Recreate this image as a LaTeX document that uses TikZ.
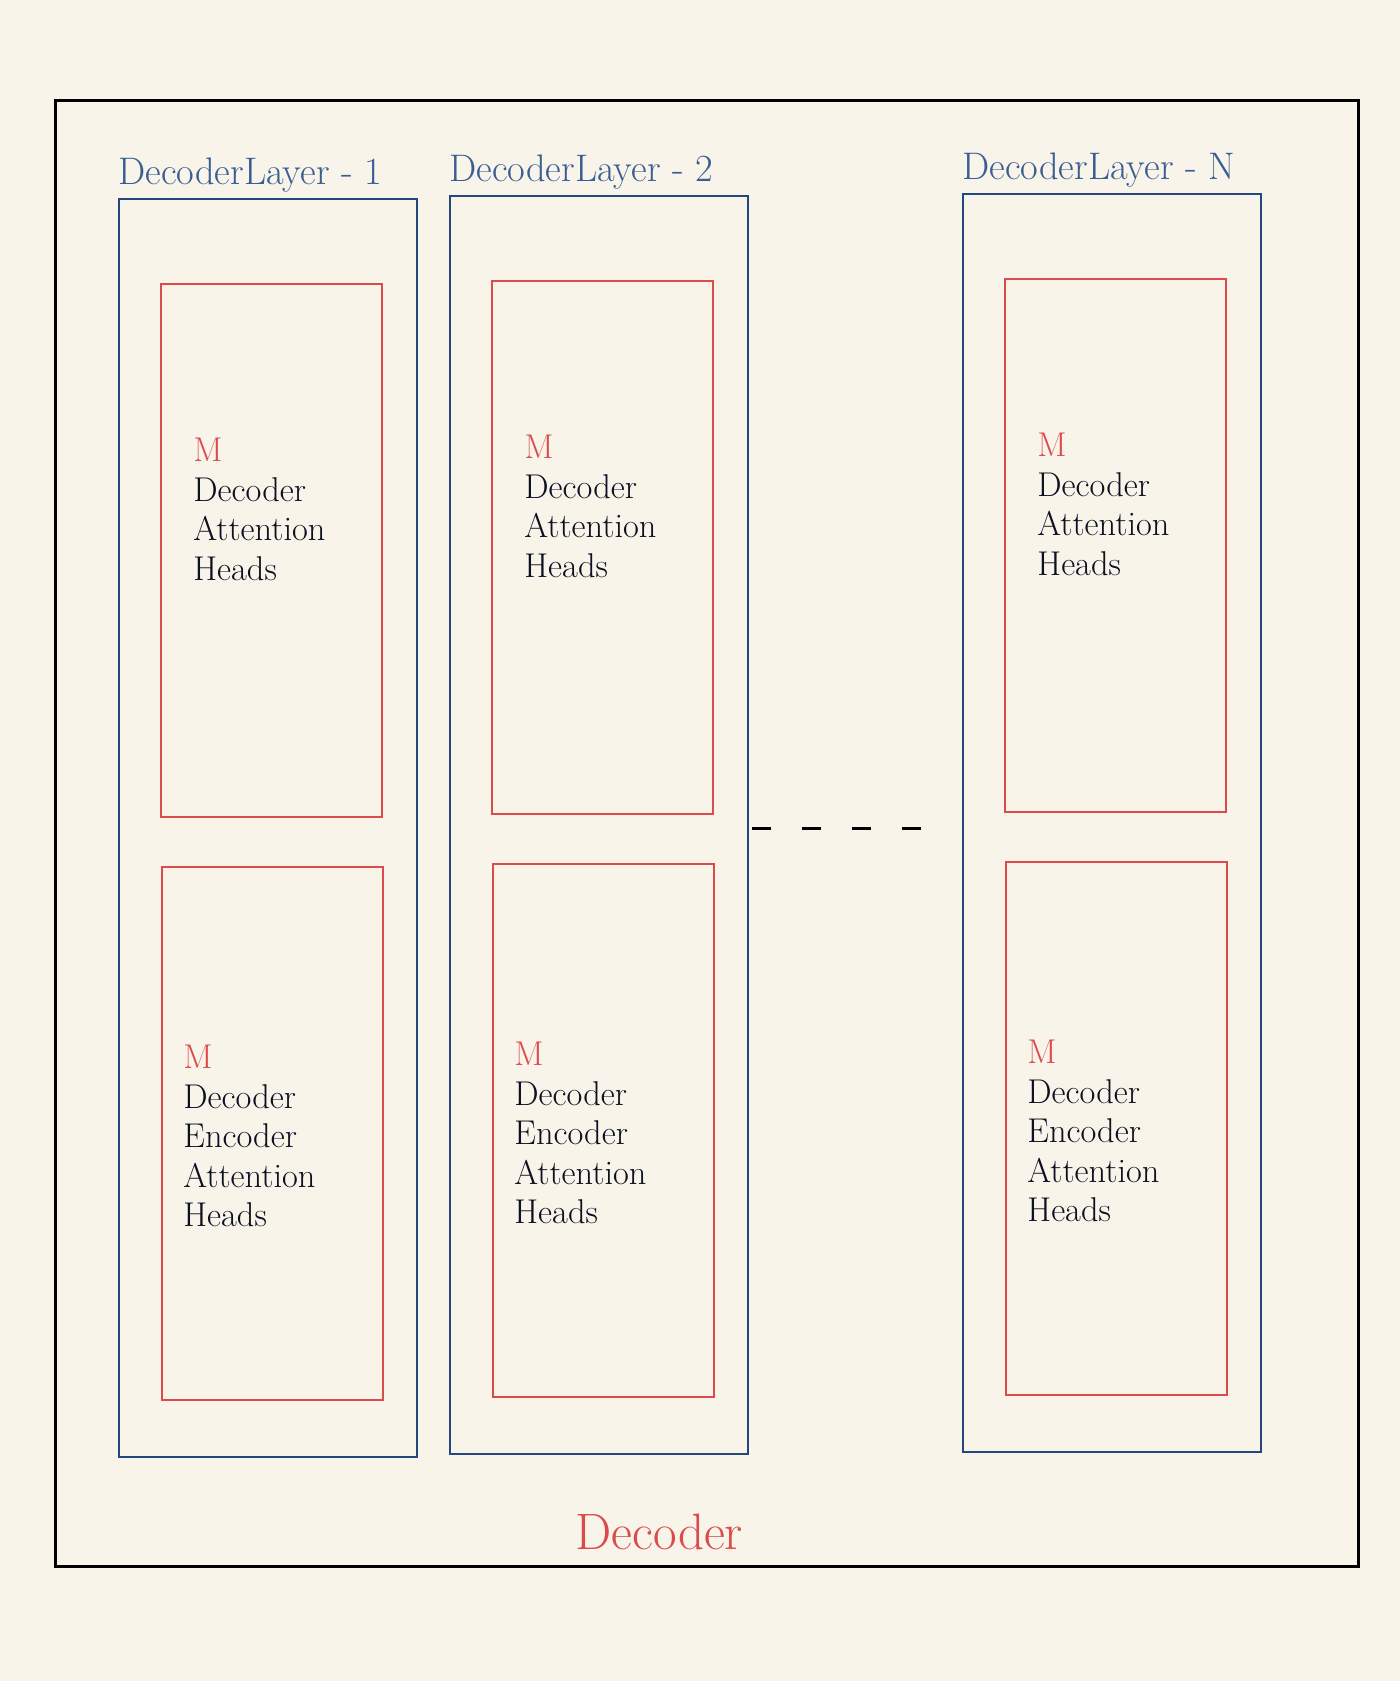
\documentclass[tikz,border=0pt]{standalone}
\usetikzlibrary{positioning}
\definecolor{paper}{HTML}{F8F4EA}
\definecolor{layerblue}{HTML}{24477F}
\definecolor{labelblue}{HTML}{3A5D92}
\definecolor{headred}{HTML}{DC4B4C}
\definecolor{inktext}{HTML}{0C1020}

\tikzset{
  layerbox/.style={draw=layerblue, line width=1.1pt, minimum width=149pt, minimum height=629pt, inner sep=0pt, anchor=north west},
  headbox/.style={draw=headred, line width=1pt, minimum width=110.5pt, minimum height=266.5pt, inner sep=0pt, anchor=north west},
  layerlabel/.style={text=labelblue, font=\fontsize{19.2}{22}\selectfont, inner sep=0pt, anchor=base west},
  headtext/.style={text=inktext, font=\fontsize{17.2}{19.75}\selectfont, align=left, inner sep=0pt, anchor=north west}
}

\begin{document}
\begin{tikzpicture}[x=0.5pt, y=-0.5pt]
    % Background
    \fill[paper] (0,0) rectangle (1400,1681);
    \useasboundingbox (0,0) rectangle (1400,1681);

    % Decoder frame
    \node[draw=black, line width=1.3pt, minimum width=651.5pt, minimum height=733pt, inner sep=0pt, anchor=north west] (decoder) at (54,99) {};
    \node[text=headred, font=\fontsize{25.6}{28}\selectfont, inner sep=0pt, anchor=base west] (decoderlabel) at (575,1549) {Decoder};

    % Decoder layers
    \foreach \i/\x/\y/\lab in {1/118/198/1, 2/449/195/2, 3/962/193/N} {
        \node[layerbox] (layer\i) at (\x,\y) {};
        \node[layerlabel] (label\i) at ([shift={(0,-14)}]layer\i.north west) {DecoderLayer - \lab};

        % Attention heads
        \node[headbox] (self\i) at ([shift={(42,85)}]layer\i.north west) {};
        \node[headbox] (cross\i) at ([shift={(43,668)}]layer\i.north west) {};
        \node[headtext] (selftext\i) at ([shift={(33,155)}]self\i.north west)
            {\textcolor{headred}{M}\\Decoder\\Attention\\Heads};
        \node[headtext] (crosstext\i) at ([shift={(22,179)}]cross\i.north west)
            {\textcolor{headred}{M}\\Decoder\\Encoder\\Attention\\Heads};
    }

    % Gap between layer 2 and layer N
    \coordinate (gapL) at (752,828);
    \coordinate (gapR) at (921,828);
    \draw[black, line width=1.5pt, dash pattern=on 9.5pt off 15.5pt] (gapL) -- (gapR);
\end{tikzpicture}
\end{document}
